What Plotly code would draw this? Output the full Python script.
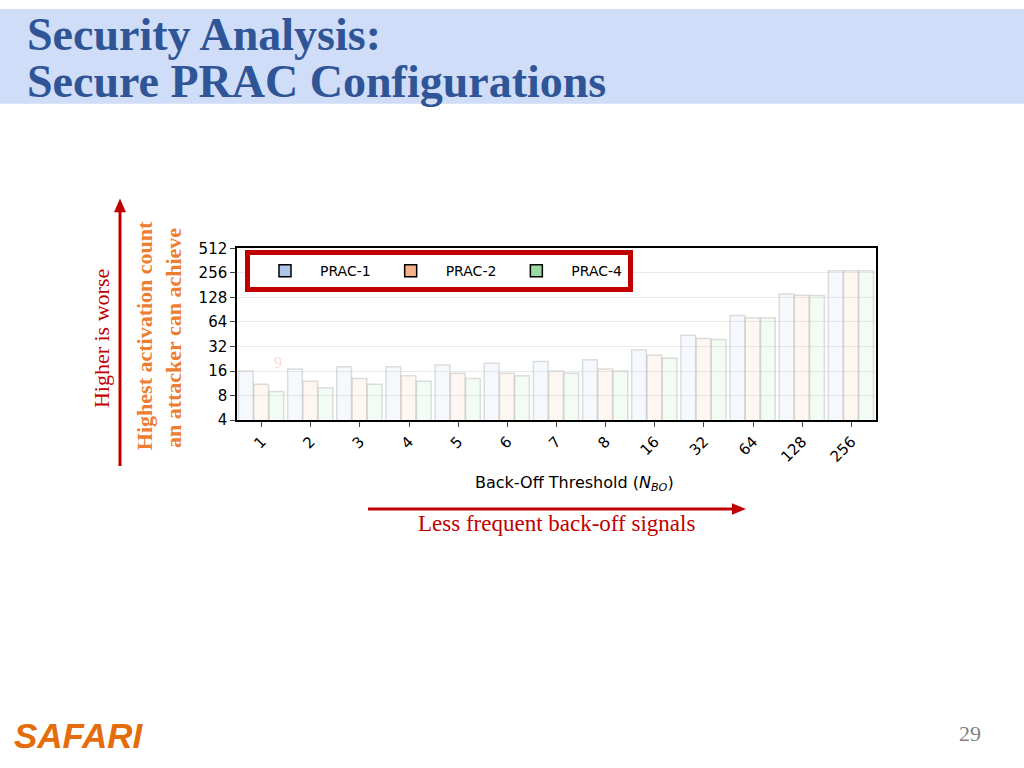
import plotly.graph_objects as go

categories = ["1","2","3","4","5","6","7","8","16","32","64","128","256"]
prac1 = [16,17,18,18,19,20,21,22,29,44,77,141,271]
prac2 = [11,12,13,14,15,15,16,17,25,40,72,136,271]
prac4 = [9,10,11,12,13,14,15,16,23,39,72,135,271]
series = [("PRAC-1", prac1, "#aec7e8"), ("PRAC-2", prac2, "#f5b38a"), ("PRAC-4", prac4, "#98dca4")]
ytick_vals = [4,8,16,32,64,128,256,512]

W, H = 1024, 768
def px(x): return x / W
def py(y): return 1 - y / H

fig = go.Figure()
faint = ["rgba(174,199,232,0.12)", "rgba(245,179,138,0.12)", "rgba(152,220,164,0.12)"]
for i, ((name, vals, col), fc) in enumerate(zip(series, faint)):
    fig.add_trace(go.Bar(x=categories, y=vals, name=name, showlegend=False,
                         offset=-0.47 + i * 0.31, width=0.3,
                         marker=dict(color=fc, line=dict(color="rgba(200,200,200,0.6)", width=1.5))))
for name, vals, col in series:
    fig.add_trace(go.Bar(x=[None], y=[None], name=name,
                         marker=dict(color=col, line=dict(color="black", width=1.5))))

def ann(text, x, y, size, color, family="Liberation Serif", angle=0, xanchor="center"):
    return dict(text=text, x=px(x), y=py(y), xref="paper", yref="paper", xanchor=xanchor,
                yanchor="middle", textangle=angle, showarrow=False,
                font=dict(family=family, size=size, color=color))

fig.update_layout(
    width=W, height=H, margin=dict(l=0, r=0, t=0, b=0),
    paper_bgcolor="white", plot_bgcolor="white",
    barmode="overlay",
    font=dict(family="DejaVu Sans", size=14, color="black"),
    xaxis=dict(domain=[px(237), px(876)], tickangle=-45, showline=True, linecolor="black",
               linewidth=1.5, mirror=True, ticks="outside", tickfont=dict(size=15),
               range=[-0.5, 12.5]),
    yaxis=dict(domain=[py(421), py(245)], type="log", range=[0.602, 2.7095],
               tickvals=ytick_vals, ticktext=[str(v) for v in ytick_vals],
               showline=True, linecolor="black", linewidth=1.5, mirror=True, ticks="outside",
               gridcolor="rgba(220,220,220,0.6)", tickfont=dict(size=15)),
    legend=dict(orientation="h", x=px(245), y=py(247), xanchor="left", yanchor="top",
                bordercolor="#c00000", borderwidth=5, bgcolor="white",
                font=dict(size=14), itemwidth=60, traceorder="normal"),
    shapes=[
        dict(type="rect", xref="paper", yref="paper", x0=0, x1=1, y0=py(97), y1=1,
             fillcolor="#cfddf8", line=dict(width=0), layer="below"),
        dict(type="line", xref="paper", yref="paper", x0=px(120), x1=px(120), y0=py(468), y1=py(205),
             line=dict(color="#c00000", width=3)),
        dict(type="path", xref="paper", yref="paper",
             path=f"M {px(114)},{py(208)} L {px(126)},{py(208)} L {px(120)},{py(194)} Z",
             fillcolor="#c00000", line=dict(width=0)),
        dict(type="line", xref="paper", yref="paper", x0=px(368), x1=px(735), y0=py(512), y1=py(512),
             line=dict(color="#c00000", width=3)),
        dict(type="path", xref="paper", yref="paper",
             path=f"M {px(732)},{py(506)} L {px(732)},{py(518)} L {px(746)},{py(512)} Z",
             fillcolor="#c00000", line=dict(width=0)),
    ],
    annotations=[
        ann("<b>Security Analysis:</b>", 25, 26, 46, "#2f5597", xanchor="left"),
        ann("<b>Secure PRAC Configurations</b>", 25, 74, 46, "#2f5597", xanchor="left"),
        ann("Higher is worse", 101, 338, 22, "#c00000", angle=-90),
        ann("<b>Highest activation count</b>", 144, 335, 22, "#ed7d31", angle=-90),
        ann("<b>an attacker can achieve</b>", 173, 337, 22, "#ed7d31", angle=-90),
        ann("Back-Off Threshold (<i>N</i><sub><i>BO</i></sub>)", 574, 486, 16, "black", family="DejaVu Sans"),
        ann("Less frequent back-off signals", 556, 527, 23, "#c00000"),
        ann("9", 278, 362, 16, "rgba(255,120,120,0.3)"),
        ann("<b><i>SAFARI</i></b>", 12, 744, 35, "#e46c0a", family="Liberation Sans", xanchor="left"),
        ann("29", 970, 742, 22, "#7f7f7f"),
    ],
)
fig.write_html("out.html", config={"displayModeBar": False},
               post_script="document.body.style.margin='0';document.body.style.overflow='hidden';window.scrollTo(0,0);")
